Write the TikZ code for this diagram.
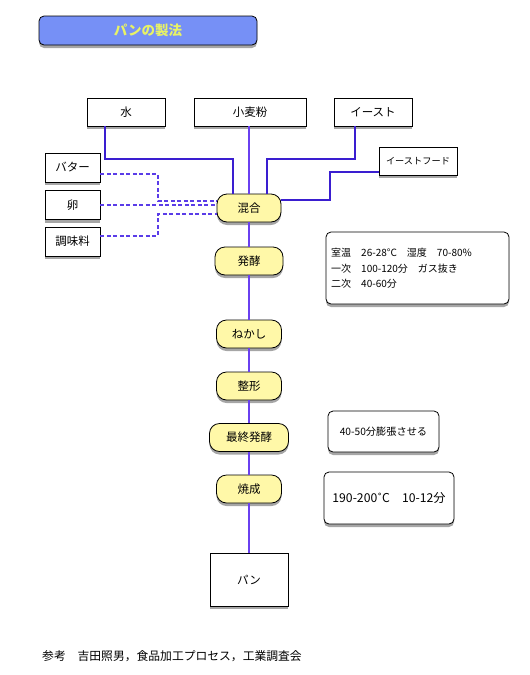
\documentclass[tikz,border=0pt]{standalone}
\usepackage{fontspec}
\setmainfont{Noto Sans CJK JP}
\newfontfamily\symfont{DejaVu Sans}
\usetikzlibrary{shadows}
\definecolor{titlefill}{HTML}{7690F6}
\definecolor{titletext}{HTML}{E8F266}
\definecolor{pillfill}{HTML}{FFF8A8}
\definecolor{lnA}{HTML}{3A1ED0}
\definecolor{lnB}{HTML}{6A40F0}
\definecolor{lnD}{HTML}{5A3CE8}
\tikzset{
  shad/.style={drop shadow={shadow xshift=0pt,shadow yshift=-3pt,opacity=0.35,fill=black}},
  wbox/.style={draw=black,line width=0.8pt,fill=white,inner sep=0pt,minimum height=28pt,font=\fontsize{11.5}{13}\selectfont,shad},
  pill/.style={draw=black,line width=0.8pt,fill=pillfill,rounded corners=10pt,inner sep=0pt,minimum height=28pt,minimum width=65pt,font=\fontsize{11.5}{13}\selectfont,shad},
  note/.style={draw=black,line width=0.8pt,fill=white,rounded corners=5pt,inner sep=0pt,shad},
  strong/.style={draw=lnA,line width=1.5pt},
  thinln/.style={draw=lnB,line width=1.1pt},
  dashln/.style={draw=lnD,line width=1.1pt,dash pattern=on 4pt off 2.5pt},
  ntext/.style={anchor=west,inner sep=0pt,font=\fontsize{10}{12}\selectfont},
}
\begin{document}
\begin{tikzpicture}[x=1pt,y=1pt]
\useasboundingbox (0,0) rectangle (530,-675);
% title
\node[draw=black,line width=0.8pt,fill=titlefill,rounded corners=5pt,minimum width=218pt,minimum height=29pt,inner sep=0pt,shad,
  font=\fontsize{13.5}{15}\selectfont\bfseries,text=titletext] (title) at (148,-30.5) {パンの製法};
% ingredients
\node[wbox,minimum width=78pt] (mizu) at (126,-112) {水};
\node[wbox,minimum width=112pt] (komugi) at (250,-112) {小麦粉};
\node[wbox,minimum width=78pt] (yeast) at (373,-112) {イースト};
\node[wbox,minimum width=78pt,font=\fontsize{9.2}{11}\selectfont] (yfood) at (418,-161) {イーストフード};
\node[wbox,minimum width=55pt,minimum height=29pt] (butter) at (72.5,-167.5) {バター};
\node[wbox,minimum width=55pt,minimum height=29pt] (egg) at (72.5,-205) {卵};
\node[wbox,minimum width=55pt,minimum height=29pt] (season) at (72.5,-241.5) {調味料};
% process
\node[pill,minimum width=64pt] (kongo) at (249,-208) {混合};
\node[pill,minimum width=68pt] (hakko) at (249,-261) {発酵};
\node[pill] (nekashi) at (249,-334) {ねかし};
\node[pill] (seikei) at (249,-386) {整形};
\node[pill,minimum width=79pt] (saishu) at (249,-437.5) {最終発酵};
\node[pill] (shosei) at (249,-489) {焼成};
\node[wbox,minimum width=78pt,minimum height=53pt] (pan) at (249,-579.5) {パン};
% notes
\node[note,minimum width=183pt,minimum height=72pt] (info1) at (417.5,-268) {};
\node[ntext] (i1a) at (331,-253) {室温　26-28°C　湿度　70-80\%};
\node[ntext] (i1b) at (331,-268.5) {一次　100-120分　ガス抜き};
\node[ntext] (i1c) at (331,-284) {二次　40-60分};
\node[note,minimum width=111pt,minimum height=41pt,font=\fontsize{10.2}{12}\selectfont] (info2) at (383.5,-431.5) {40-50分膨張させる};
\node[note,minimum width=130pt,minimum height=52pt,font=\fontsize{12.2}{14}\selectfont] (info3) at (389,-498) {190-200{\symfont\fontsize{9.5}{11}\selectfont\raisebox{1pt}{˚}}C　10-12分};
% reference
\node[anchor=west,inner sep=0pt,font=\fontsize{11.8}{13}\selectfont] (ref) at (42,-656) {参考　吉田照男，食品加工プロセス，工業調査会};
% solid connectors
\coordinate (j1) at (233,-159);
\coordinate (j2) at (267,-159);
\coordinate (j3) at (330,-200);
\draw[strong] ([xshift=-21pt]mizu.south) |- (j1) -- (j1 |- kongo.north);
\draw[strong] ([xshift=-18pt]yeast.south) |- (j2) -- (j2 |- kongo.north);
\draw[strong] ([yshift=-11pt]yfood.west) -| (j3) -- (j3 -| kongo.east);
\draw[thinln] (komugi.south -| kongo.north) -- (kongo.north);
% dashed connectors
\coordinate (d1) at (158,-201);
\coordinate (d2) at (158,-214);
\draw[dashln] ([yshift=-6.5pt]butter.east) -| (d1) -- (d1 -| kongo.west);
\draw[dashln] (egg.east) -- (egg.east -| kongo.west);
\draw[dashln] ([yshift=5.5pt]season.east) -| (d2) -- (d2 -| kongo.west);
% spine
\draw[thinln] (kongo.south) -- (hakko.north);
\draw[thinln] (hakko.south) -- (nekashi.north);
\draw[thinln] (nekashi.south) -- (seikei.north);
\draw[thinln] (seikei.south) -- (saishu.north);
\draw[thinln] (saishu.south) -- (shosei.north);
\draw[thinln] (shosei.south) -- (pan.north);
\end{tikzpicture}
\end{document}
